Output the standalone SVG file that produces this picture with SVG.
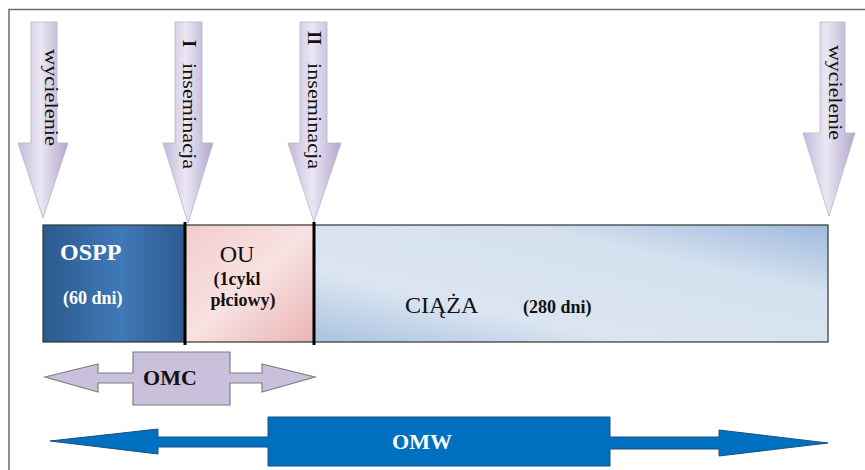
<svg xmlns="http://www.w3.org/2000/svg" width="865" height="470" viewBox="0 0 865 470">
<defs>
<linearGradient id="arr" x1="0" y1="0" x2="1" y2="0">
<stop offset="0" stop-color="#c3b9da"/>
<stop offset="0.45" stop-color="#ebe7f3"/>
<stop offset="1" stop-color="#b3a7cd"/>
</linearGradient>
<linearGradient id="ospp" x1="0" y1="0" x2="1" y2="0">
<stop offset="0" stop-color="#2b5a8e"/>
<stop offset="0.55" stop-color="#4079b8"/>
<stop offset="1" stop-color="#2d5a90"/>
</linearGradient>
<linearGradient id="ou" x1="0" y1="0" x2="1" y2="1">
<stop offset="0" stop-color="#f3cccc"/>
<stop offset="0.5" stop-color="#f8e2e2"/>
<stop offset="1" stop-color="#e9b3b3"/>
</linearGradient>
<linearGradient id="ciaza" x1="0" y1="1" x2="1" y2="0">
<stop offset="0" stop-color="#a9c2e0"/>
<stop offset="0.3" stop-color="#dbe5f1"/>
<stop offset="0.7" stop-color="#d5e1ef"/>
<stop offset="1" stop-color="#9fbade"/>
</linearGradient>
<style>
.frame{stroke:#6b6b6b;stroke-width:1.5;fill:none}
.arr{fill:url(#arr);stroke:#b9b2cc;stroke-width:0.8}
.vt{font-family:"Liberation Serif","Times New Roman",serif;font-size:18px;fill:#111}
.vb{font-family:"Liberation Serif","Times New Roman",serif;font-size:18px;font-weight:bold;fill:#111}
.bar{stroke:#333;stroke-width:1.2}
.div{stroke:#000;stroke-width:3}
.tw{font-family:"Liberation Serif","Times New Roman",serif;font-weight:bold;fill:#fff}
.tk{font-family:"Liberation Serif","Times New Roman",serif;fill:#111}
.bold{font-weight:bold}
</style>
</defs>
<path class="frame" d="M9,470 V9.5 H865"/>
<g id="arrow-wycielenie-1">
<polygon class="arr" points="31,22 57,22 57,143 68,143 43,218 18,143 31,143"/>
<text class="vt" transform="translate(45,49) rotate(90)" textLength="97" lengthAdjust="spacingAndGlyphs">wycielenie</text>
</g>
<g id="arrow-inseminacja-1">
<polygon class="arr" points="175,22 202,22 202,143 213,143 188,223 163,143 175,143"/>
<text class="vb" transform="translate(183,40) rotate(90)">I</text>
<text class="vt" transform="translate(183,63) rotate(90)" textLength="106" lengthAdjust="spacingAndGlyphs">inseminacja</text>
</g>
<g id="arrow-inseminacja-2">
<polygon class="arr" points="300,22 327,22 327,143 341,143 314,222 288,143 300,143"/>
<text class="vb" transform="translate(308,31) rotate(90)">II</text>
<text class="vt" transform="translate(308,63) rotate(90)" textLength="106" lengthAdjust="spacingAndGlyphs">inseminacja</text>
</g>
<g id="arrow-wycielenie-2">
<polygon class="arr" points="820,22 845,22 845,133 855,133 829,216 803,133 820,133"/>
<text class="vt" transform="translate(829,45) rotate(90)" textLength="95" lengthAdjust="spacingAndGlyphs">wycielenie</text>
</g>
<g id="ospp">
<rect class="bar" x="43" y="225" width="142" height="117" fill="url(#ospp)"/>
<text class="tw" x="60" y="260" font-size="24">OSPP</text>
<text class="tw" x="63" y="304" font-size="18">(60 dni)</text>
</g>
<g id="ou">
<rect class="bar" x="185" y="225" width="129" height="117" fill="url(#ou)"/>
<text class="tk" x="237" y="262" font-size="24" text-anchor="middle">OU</text>
<text class="tk bold" x="237" y="285" font-size="18" text-anchor="middle">(1cykl</text>
<text class="tk bold" x="243" y="306" font-size="18" text-anchor="middle">płciowy)</text>
</g>
<g id="ciaza">
<rect class="bar" x="314" y="225" width="514" height="117" fill="url(#ciaza)"/>
<text class="tk" x="405" y="313" font-size="24">CIĄŻA</text>
<text class="tk bold" x="523" y="313" font-size="18">(280 dni)</text>
</g>
<g id="connectors">
<line class="div" x1="185" y1="222" x2="185" y2="345"/>
<line class="div" x1="314" y1="222" x2="314" y2="345"/>
</g>
<g id="omc">
<polygon points="45,377 98,364 98,373 133,373 133,352 230,352 230,373 262,373 262,364 315,377 262,392 262,383 230,383 230,405 133,405 133,383 98,383 98,392" fill="#c9c0dc" stroke="#7f7f7f" stroke-width="1.2"/>
<text class="tk bold" x="170" y="385" font-size="22" text-anchor="middle">OMC</text>
</g>
<g id="omw">
<polygon points="50,441 158,429 158,437 268,437 268,417 610,417 610,437 719,437 719,430 828,443 719,456 719,449 610,449 610,466 268,466 268,447 158,447 158,454" fill="#0070c0" stroke="#1f4e79" stroke-width="1"/>
<text class="tw" x="422" y="449" font-size="22" text-anchor="middle">OMW</text>
</g>
</svg>
